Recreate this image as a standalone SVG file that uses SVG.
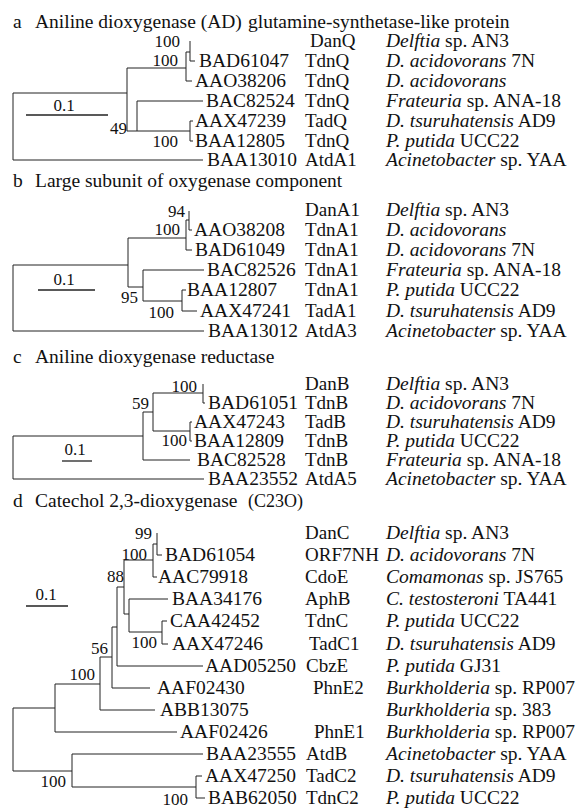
<svg xmlns="http://www.w3.org/2000/svg" width="576" height="811" viewBox="0 0 576 811">
<style>
text{font-family:"Liberation Serif","Times New Roman",serif;fill:#111}
.t{font-size:19.5px}
.acc{font-size:19.5px}
.gene{font-size:19px}
.sp{font-size:19.5px}
.i{font-style:italic}
.bs{font-size:17px;text-anchor:end}
.sc{font-size:17px;text-anchor:middle}
.e path{fill:none;stroke:#222;stroke-width:1}
.bar{stroke:#222;stroke-width:1.3}
</style>
<rect width="576" height="811" fill="#fff"/>

<!-- Panel a -->
<g id="title-a"><text class="t" x="13" y="28">a</text><text class="t" x="35" y="28">Aniline dioxygenase (AD)</text><text class="t" x="248" y="28">glutamine-synthetase-like protein</text></g>
<g class="e" id="edges-a">
<path d="M13,93V160M13,93H127M127,68V131M127,68H186M186,52V81H192M186,52H190M190,41V61H195M127,131H137M137,101V131M137,101H203M137,131H190M190,121V141M190,121H193M190,141H193M13,160H203"/>
</g>
<g id="boot-a"><text class="bs" x="180" y="47">100</text><text class="bs" x="178" y="66">100</text><text class="bs" x="127" y="134">49</text><text class="bs" x="178" y="147">100</text></g>
<g id="scale-a"><text class="sc" x="64" y="111">0.1</text><line class="bar" x1="26" y1="115" x2="108" y2="115"/></g>
<g id="a-DanQ"><text class="gene" x="310" y="47">DanQ</text><text class="sp" x="386" y="47"><tspan class="i">Delftia</tspan> sp. AN3</text></g>
<g id="a-BAD61047"><text class="acc" x="199" y="67">BAD61047</text><text class="gene" x="305" y="67">TdnQ</text><text class="sp" x="386" y="67"><tspan class="i">D. acidovorans</tspan> 7N</text></g>
<g id="a-AAO38206"><text class="acc" x="195" y="87">AAO38206</text><text class="gene" x="305" y="87">TdnQ</text><text class="sp" x="386" y="87"><tspan class="i">D. acidovorans</tspan></text></g>
<g id="a-BAC82524"><text class="acc" x="206" y="107">BAC82524</text><text class="gene" x="305" y="107">TdnQ</text><text class="sp" x="386" y="107"><tspan class="i">Frateuria</tspan> sp. ANA-18</text></g>
<g id="a-AAX47239"><text class="acc" x="195" y="127">AAX47239</text><text class="gene" x="305" y="127">TadQ</text><text class="sp" x="386" y="127"><tspan class="i">D. tsuruhatensis</tspan> AD9</text></g>
<g id="a-BAA12805"><text class="acc" x="195" y="147">BAA12805</text><text class="gene" x="305" y="147">TdnQ</text><text class="sp" x="386" y="147"><tspan class="i">P. putida</tspan> UCC22</text></g>
<g id="a-BAA13010"><text class="acc" x="207" y="166">BAA13010</text><text class="gene" x="305" y="166">AtdA1</text><text class="sp" x="386" y="166"><tspan class="i">Acinetobacter</tspan> sp. YAA</text></g>

<!-- Panel b -->
<g id="title-b"><text class="t" x="13" y="187">b</text><text class="t" x="35" y="187">Large subunit of oxygenase component</text></g>
<g class="e" id="edges-b">
<path d="M13,265V331M13,265H128M128,238V287M128,238H186M186,220V250H192M186,220H189M189,211V230H192M128,287H143M143,270V301M143,270H204M143,301H182M182,290V311M182,290H186M182,311H197M13,331H204"/>
</g>
<g id="boot-b"><text class="bs" x="185" y="217">94</text><text class="bs" x="180" y="235">100</text><text class="bs" x="138" y="303">95</text><text class="bs" x="174" y="318">100</text></g>
<g id="scale-b"><text class="sc" x="64" y="285">0.1</text><line class="bar" x1="38" y1="290" x2="95" y2="290"/></g>
<g id="b-DanA1"><text class="gene" x="305" y="216">DanA1</text><text class="sp" x="386" y="216"><tspan class="i">Delftia</tspan> sp. AN3</text></g>
<g id="b-AAO38208"><text class="acc" x="194" y="236">AAO38208</text><text class="gene" x="305" y="236">TdnA1</text><text class="sp" x="386" y="236"><tspan class="i">D. acidovorans</tspan></text></g>
<g id="b-BAD61049"><text class="acc" x="195" y="256">BAD61049</text><text class="gene" x="305" y="256">TdnA1</text><text class="sp" x="386" y="256"><tspan class="i">D. acidovorans</tspan> 7N</text></g>
<g id="b-BAC82526"><text class="acc" x="207" y="276">BAC82526</text><text class="gene" x="305" y="276">TdnA1</text><text class="sp" x="386" y="276"><tspan class="i">Frateuria</tspan> sp. ANA-18</text></g>
<g id="b-BAA12807"><text class="acc" x="187" y="296">BAA12807</text><text class="gene" x="305" y="296">TdnA1</text><text class="sp" x="386" y="296"><tspan class="i">P. putida</tspan> UCC22</text></g>
<g id="b-AAX47241"><text class="acc" x="200" y="317">AAX47241</text><text class="gene" x="305" y="317">TadA1</text><text class="sp" x="386" y="317"><tspan class="i">D. tsuruhatensis</tspan> AD9</text></g>
<g id="b-BAA13012"><text class="acc" x="208" y="337">BAA13012</text><text class="gene" x="305" y="337">AtdA3</text><text class="sp" x="386" y="337"><tspan class="i">Acinetobacter</tspan> sp. YAA</text></g>

<!-- Panel c -->
<g id="title-c"><text class="t" x="13" y="363">c</text><text class="t" x="35" y="363">Aniline dioxygenase reductase</text></g>
<g class="e" id="edges-c">
<path d="M13,436V479M13,436H143M143,412V460M143,412H153M153,393V431M153,393H203M203,384V403H205M153,431H190M190,422V441M190,422H192M190,441H192M143,460H190M13,479H204"/>
</g>
<g id="boot-c"><text class="bs" x="197" y="392">100</text><text class="bs" x="149" y="409">59</text><text class="bs" x="187" y="446">100</text></g>
<g id="scale-c"><text class="sc" x="75" y="455">0.1</text><line class="bar" x1="62" y1="461" x2="92" y2="461"/></g>
<g id="c-DanB"><text class="gene" x="305" y="390">DanB</text><text class="sp" x="386" y="390"><tspan class="i">Delftia</tspan> sp. AN3</text></g>
<g id="c-BAD61051"><text class="acc" x="208" y="409">BAD61051</text><text class="gene" x="305" y="409">TdnB</text><text class="sp" x="386" y="409"><tspan class="i">D. acidovorans</tspan> 7N</text></g>
<g id="c-AAX47243"><text class="acc" x="194" y="428">AAX47243</text><text class="gene" x="305" y="428">TadB</text><text class="sp" x="386" y="428"><tspan class="i">D. tsuruhatensis</tspan> AD9</text></g>
<g id="c-BAA12809"><text class="acc" x="194" y="447">BAA12809</text><text class="gene" x="305" y="447">TdnB</text><text class="sp" x="386" y="447"><tspan class="i">P. putida</tspan> UCC22</text></g>
<g id="c-BAC82528"><text class="acc" x="197" y="466">BAC82528</text><text class="gene" x="305" y="466">TdnB</text><text class="sp" x="386" y="466"><tspan class="i">Frateuria</tspan> sp. ANA-18</text></g>
<g id="c-BAA23552"><text class="acc" x="208" y="485">BAA23552</text><text class="gene" x="305" y="485">AtdA5</text><text class="sp" x="386" y="485"><tspan class="i">Acinetobacter</tspan> sp. YAA</text></g>

<!-- Panel d -->
<g id="title-d"><text class="t" x="13" y="507">d</text><text class="t" x="35" y="507">Catechol 2,3-dioxygenase</text><text class="t" x="248" y="507" style="font-size:18px">(C23O)</text></g>
<g class="e" id="edges-d">
<path d="M157,533V555H162M153,544V577H157M153,544H157M124,560V614M124,560H153M124,614H129M129,599V632M129,599H168M162,621V644M129,632H162M162,621H167M162,644H168M117,587V666M117,587H124M117,666H203M112,627V688M112,627H117M112,688H150M100,657V710M100,657H112M100,710H155M55,684V732M55,684H100M55,732H177M13,708V771M13,708H55M13,771H72M72,754V787M72,754H203M72,787H196M196,776V798M196,776H202M196,798H205"/>
</g>
<g id="boot-d"><text class="bs" x="152" y="539">99</text><text class="bs" x="147" y="560">100</text><text class="bs" x="124" y="582">88</text><text class="bs" x="157" y="648">100</text><text class="bs" x="108" y="654">56</text><text class="bs" x="95" y="680">100</text><text class="bs" x="66" y="787">100</text><text class="bs" x="188" y="805">100</text></g>
<g id="scale-d"><text class="sc" x="46" y="600">0.1</text><line class="bar" x1="26" y1="606" x2="68" y2="606"/></g>
<g id="d-DanC"><text class="gene" x="305" y="539">DanC</text><text class="sp" x="386" y="539"><tspan class="i">Delftia</tspan> sp. AN3</text></g>
<g id="d-BAD61054"><text class="acc" x="165" y="561">BAD61054</text><text class="gene" x="305" y="561">ORF7NH</text><text class="sp" x="386" y="561"><tspan class="i">D. acidovorans</tspan> 7N</text></g>
<g id="d-AAC79918"><text class="acc" x="158" y="583">AAC79918</text><text class="gene" x="305" y="583">CdoE</text><text class="sp" x="386" y="583"><tspan class="i">Comamonas</tspan> sp. JS765</text></g>
<g id="d-BAA34176"><text class="acc" x="172" y="605">BAA34176</text><text class="gene" x="305" y="605">AphB</text><text class="sp" x="386" y="605"><tspan class="i">C. testosteroni</tspan> TA441</text></g>
<g id="d-CAA42452"><text class="acc" x="170" y="627">CAA42452</text><text class="gene" x="305" y="627">TdnC</text><text class="sp" x="386" y="627"><tspan class="i">P. putida</tspan> UCC22</text></g>
<g id="d-AAX47246"><text class="acc" x="172" y="650">AAX47246</text><text class="gene" x="309" y="650">TadC1</text><text class="sp" x="386" y="650"><tspan class="i">D. tsuruhatensis</tspan> AD9</text></g>
<g id="d-AAD05250"><text class="acc" x="205" y="672">AAD05250</text><text class="gene" x="306" y="672">CbzE</text><text class="sp" x="386" y="672"><tspan class="i">P. putida</tspan> GJ31</text></g>
<g id="d-AAF02430"><text class="acc" x="157" y="694">AAF02430</text><text class="gene" x="313" y="694">PhnE2</text><text class="sp" x="386" y="694"><tspan class="i">Burkholderia</tspan> sp. RP007</text></g>
<g id="d-ABB13075"><text class="acc" x="160" y="716">ABB13075</text><text class="sp" x="386" y="716"><tspan class="i">Burkholderia</tspan> sp. 383</text></g>
<g id="d-AAF02426"><text class="acc" x="180" y="738">AAF02426</text><text class="gene" x="314" y="738">PhnE1</text><text class="sp" x="386" y="738"><tspan class="i">Burkholderia</tspan> sp. RP007</text></g>
<g id="d-BAA23555"><text class="acc" x="206" y="760">BAA23555</text><text class="gene" x="306" y="760">AtdB</text><text class="sp" x="386" y="760"><tspan class="i">Acinetobacter</tspan> sp. YAA</text></g>
<g id="d-AAX47250"><text class="acc" x="205" y="782">AAX47250</text><text class="gene" x="306" y="782">TadC2</text><text class="sp" x="386" y="782"><tspan class="i">D. tsuruhatensis</tspan> AD9</text></g>
<g id="d-BAB62050"><text class="acc" x="208" y="804">BAB62050</text><text class="gene" x="306" y="804">TdnC2</text><text class="sp" x="386" y="804"><tspan class="i">P. putida</tspan> UCC22</text></g>
</svg>
